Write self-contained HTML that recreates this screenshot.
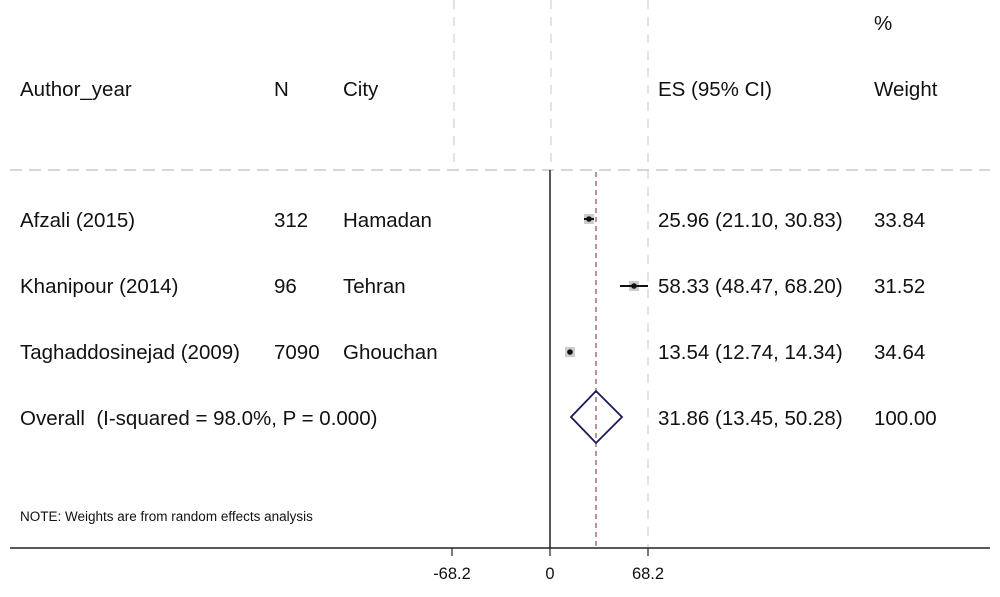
<!DOCTYPE html>
<html><head><style>
body{margin:0;background:#fff;}
svg{display:block;font-family:"Liberation Sans",sans-serif;}
</style></head><body>
<svg width="1000" height="597" viewBox="0 0 1000 597">
<g stroke="#e4e4e4" stroke-width="2" stroke-dasharray="9,8">
<line x1="454" y1="0" x2="454" y2="168"/>
<line x1="551" y1="0" x2="551" y2="168"/>
<line x1="648" y1="0" x2="648" y2="548"/>
</g>
<line x1="10" y1="170" x2="990" y2="170" stroke="#c8c8c8" stroke-width="1.5" stroke-dasharray="12,7"/>
<line x1="550" y1="170" x2="550" y2="548" stroke="#222" stroke-width="1.5"/>
<line x1="596" y1="172" x2="596" y2="548" stroke="#9a4a5a" stroke-width="1.2" stroke-dasharray="5,4"/>
<line x1="10" y1="548" x2="990" y2="548" stroke="#222" stroke-width="1.5"/>
<g stroke="#222" stroke-width="1.2"><line x1="452" y1="548" x2="452" y2="556"/><line x1="550" y1="548" x2="550" y2="556"/><line x1="648" y1="548" x2="648" y2="556"/></g>
<g font-size="16.5" fill="#111" text-anchor="middle"><text x="452" y="579">-68.2</text><text x="550" y="579">0</text><text x="648" y="579">68.2</text></g>
<g font-size="20.5" fill="#111">
<text x="874" y="30">%</text>
<text x="20" y="96">Author_year</text><text x="274" y="96">N</text><text x="343" y="96">City</text><text x="658" y="96">ES (95% CI)</text><text x="874" y="96">Weight</text>
<text x="20" y="227">Afzali (2015)</text><text x="274" y="227">312</text><text x="343" y="227">Hamadan</text><text x="658" y="227">25.96 (21.10, 30.83)</text><text x="874" y="227">33.84</text>
<text x="20" y="293">Khanipour (2014)</text><text x="274" y="293">96</text><text x="343" y="293">Tehran</text><text x="658" y="293">58.33 (48.47, 68.20)</text><text x="874" y="293">31.52</text>
<text x="20" y="359">Taghaddosinejad (2009)</text><text x="274" y="359">7090</text><text x="343" y="359">Ghouchan</text><text x="658" y="359">13.54 (12.74, 14.34)</text><text x="874" y="359">34.64</text>
<text x="20" y="425">Overall&#160;&#160;(I-squared = 98.0%, P = 0.000)</text><text x="658" y="425">31.86 (13.45, 50.28)</text><text x="874" y="425">100.00</text>
</g>
<text x="20" y="521" font-size="13.5" fill="#111">NOTE: Weights are from random effects analysis</text>
<g fill="#ccc"><rect x="584" y="214" width="10" height="10"/><rect x="629" y="281" width="10" height="10"/><rect x="565" y="347" width="10" height="10"/></g>
<g stroke="#111" stroke-width="2"><line x1="584" y1="219" x2="594" y2="219"/><line x1="620" y1="286" x2="648" y2="286"/></g>
<g fill="#111"><circle cx="589" cy="219" r="2.8"/><circle cx="634" cy="286" r="2.8"/><circle cx="570" cy="352" r="2.8"/></g>
<polygon points="571,417 596,391 622,417 596,443" fill="none" stroke="#1a1a5a" stroke-width="1.8"/>
</svg>
</body></html>
